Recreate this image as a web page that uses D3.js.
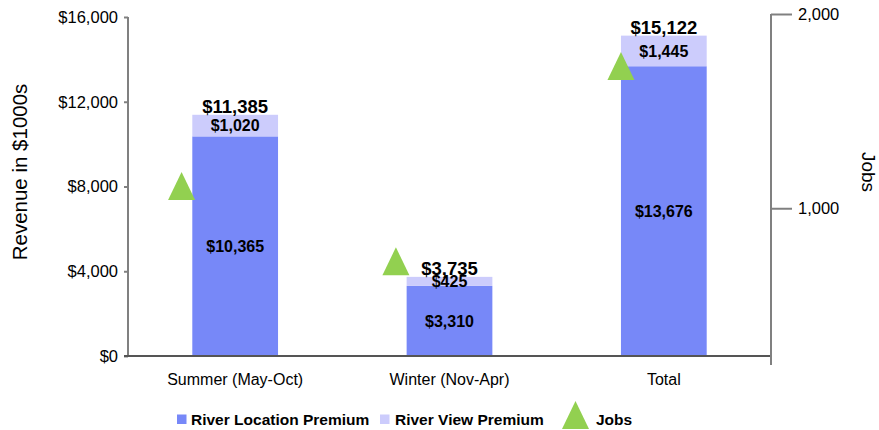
<!DOCTYPE html>
<html><head><meta charset="utf-8">
<script src="https://cdn.jsdelivr.net/npm/d3@7/dist/d3.min.js"></script>
<style>body{margin:0;background:#fff}svg{display:block}text{font-family:"Liberation Sans",Arial,sans-serif;fill:#000}</style>
</head><body><svg id="c" width="879" height="430"></svg>
<script>
const categories = ["Summer (May-Oct)", "Winter (Nov-Apr)", "Total"];
const locationPremium = [10365, 3310, 13676];
const viewPremium = [1020, 425, 1445];
const totals = [11385, 3735, 15122];
const jobs = [1114, 727, 1732];
const jobsX = [0.75, 1.75, 2.8];
const leftTicks = [0, 4000, 8000, 12000, 16000];
const rightTicks = [1000, 2000];
const seriesNames = ["River Location Premium", "River View Premium", "Jobs"];

const C_LOC = "#7788F8", C_VIEW = "#CCCCFC", C_JOBS = "#92D050", AX = "#808080";
const L = 128, R = 771, T = 17, B = 356;
const svg = d3.select("#c");

const x = d3.scaleBand().domain(categories).range([L, R]).paddingInner(0.6).paddingOuter(0.3);
const x2 = d3.scaleLinear().domain([0.5, 3.5]).range([L, R]);
const y = d3.scaleLinear().domain([0, 16000]).range([B, T]);
const y2 = d3.scaleLinear().domain([193, 2000]).range([365, 14]);
const fmt = d3.format(",");

// bars
const g = svg.append("g");
categories.forEach((c, i) => {
  g.append("rect").attr("x", x(c)).attr("width", x.bandwidth())
    .attr("y", y(locationPremium[i])).attr("height", y(0) - y(locationPremium[i])).attr("fill", C_LOC);
  const top = locationPremium[i] + viewPremium[i];
  g.append("rect").attr("x", x(c)).attr("width", x.bandwidth())
    .attr("y", y(top)).attr("height", y(locationPremium[i]) - y(top)).attr("fill", C_VIEW);
});

// left axis
const ya = svg.append("g").attr("transform", `translate(${L},0)`)
  .call(d3.axisLeft(y).tickValues(leftTicks).tickSize(4).tickPadding(6).tickFormat(d => "$" + fmt(d)));
ya.select(".domain").remove();
ya.selectAll(".tick line").attr("stroke", AX).attr("stroke-width", 2);
ya.selectAll(".tick text").style("font-size", "16.5px").attr("fill", "#000");
svg.append("line").attr("x1", L).attr("x2", L).attr("y1", T).attr("y2", B).attr("stroke", AX).attr("stroke-width", 2);

// bottom axis
svg.append("line").attr("x1", L - 4).attr("x2", R).attr("y1", B).attr("y2", B).attr("stroke", "#555").attr("stroke-width", 2);
const xa = svg.append("g").attr("transform", `translate(0,${B})`)
  .call(d3.axisBottom(x).tickSize(0).tickPadding(18));
xa.select(".domain").remove();
xa.selectAll(".tick text").style("font-size", "16px").attr("fill", "#000");

// right axis
svg.append("line").attr("x1", R).attr("x2", R).attr("y1", y2(2000)).attr("y2", y2.range()[0]).attr("stroke", AX).attr("stroke-width", 2);
const ra = svg.append("g").attr("transform", `translate(${R},0)`)
  .call(d3.axisRight(y2).tickValues(rightTicks).tickSize(21).tickPadding(6).tickFormat(fmt));
ra.select(".domain").remove();
ra.selectAll(".tick line").attr("stroke", AX).attr("stroke-width", 2);
ra.selectAll(".tick text").style("font-size", "16.5px").attr("fill", "#000");

// axis titles
svg.append("text").attr("transform", `translate(27,172) rotate(-90)`).attr("text-anchor", "middle")
  .style("font-size", "20.5px").text("Revenue in $1000s");
svg.append("text").attr("transform", `translate(862,172) rotate(90)`).attr("text-anchor", "middle")
  .style("font-size", "19px").text("Jobs");

// data labels
categories.forEach((c, i) => {
  const cx = x(c) + x.bandwidth() / 2;
  g.append("text").attr("x", cx).attr("y", (y(0) + y(locationPremium[i])) / 2).attr("dy", "0.35em")
    .attr("text-anchor", "middle").style("font-size", "16px").style("font-weight", "bold").text("$" + fmt(locationPremium[i]));
  const top = locationPremium[i] + viewPremium[i];
  g.append("text").attr("x", cx).attr("y", (y(locationPremium[i]) + y(top)) / 2).attr("dy", "0.35em")
    .attr("text-anchor", "middle").style("font-size", "16px").style("font-weight", "bold").text("$" + fmt(viewPremium[i]));
  g.append("text").attr("x", cx).attr("y", y(totals[i]) - 2)
    .attr("text-anchor", "middle").style("font-size", "18.5px").style("font-weight", "bold").text("$" + fmt(totals[i]));
});

// jobs triangles
const tri = (cx, cy) => `M${cx},${cy - 14}L${cx + 13.5},${cy + 14}L${cx - 13.5},${cy + 14}Z`;
jobs.forEach((v, i) => {
  svg.append("path").attr("d", tri(x2(jobsX[i]), y2(v))).attr("fill", C_JOBS);
});

// legend
const lg = svg.append("g");
const ly = 419;
lg.append("rect").attr("x", 177).attr("y", ly - 4.5).attr("width", 9.5).attr("height", 9.5).attr("fill", C_LOC);
lg.append("text").attr("x", 191).attr("y", ly).attr("dy", "0.36em").style("font-size", "15.5px").style("font-weight", "bold").text(seriesNames[0]);
lg.append("rect").attr("x", 380).attr("y", ly - 4.5).attr("width", 9.5).attr("height", 9.5).attr("fill", C_VIEW);
lg.append("text").attr("x", 395).attr("y", ly).attr("dy", "0.36em").style("font-size", "15.5px").style("font-weight", "bold").text(seriesNames[1]);
lg.append("path").attr("d", tri(575.5, 415)).attr("fill", C_JOBS);
lg.append("text").attr("x", 596).attr("y", ly).attr("dy", "0.36em").style("font-size", "15.5px").style("font-weight", "bold").text(seriesNames[2]);
</script></body></html>
